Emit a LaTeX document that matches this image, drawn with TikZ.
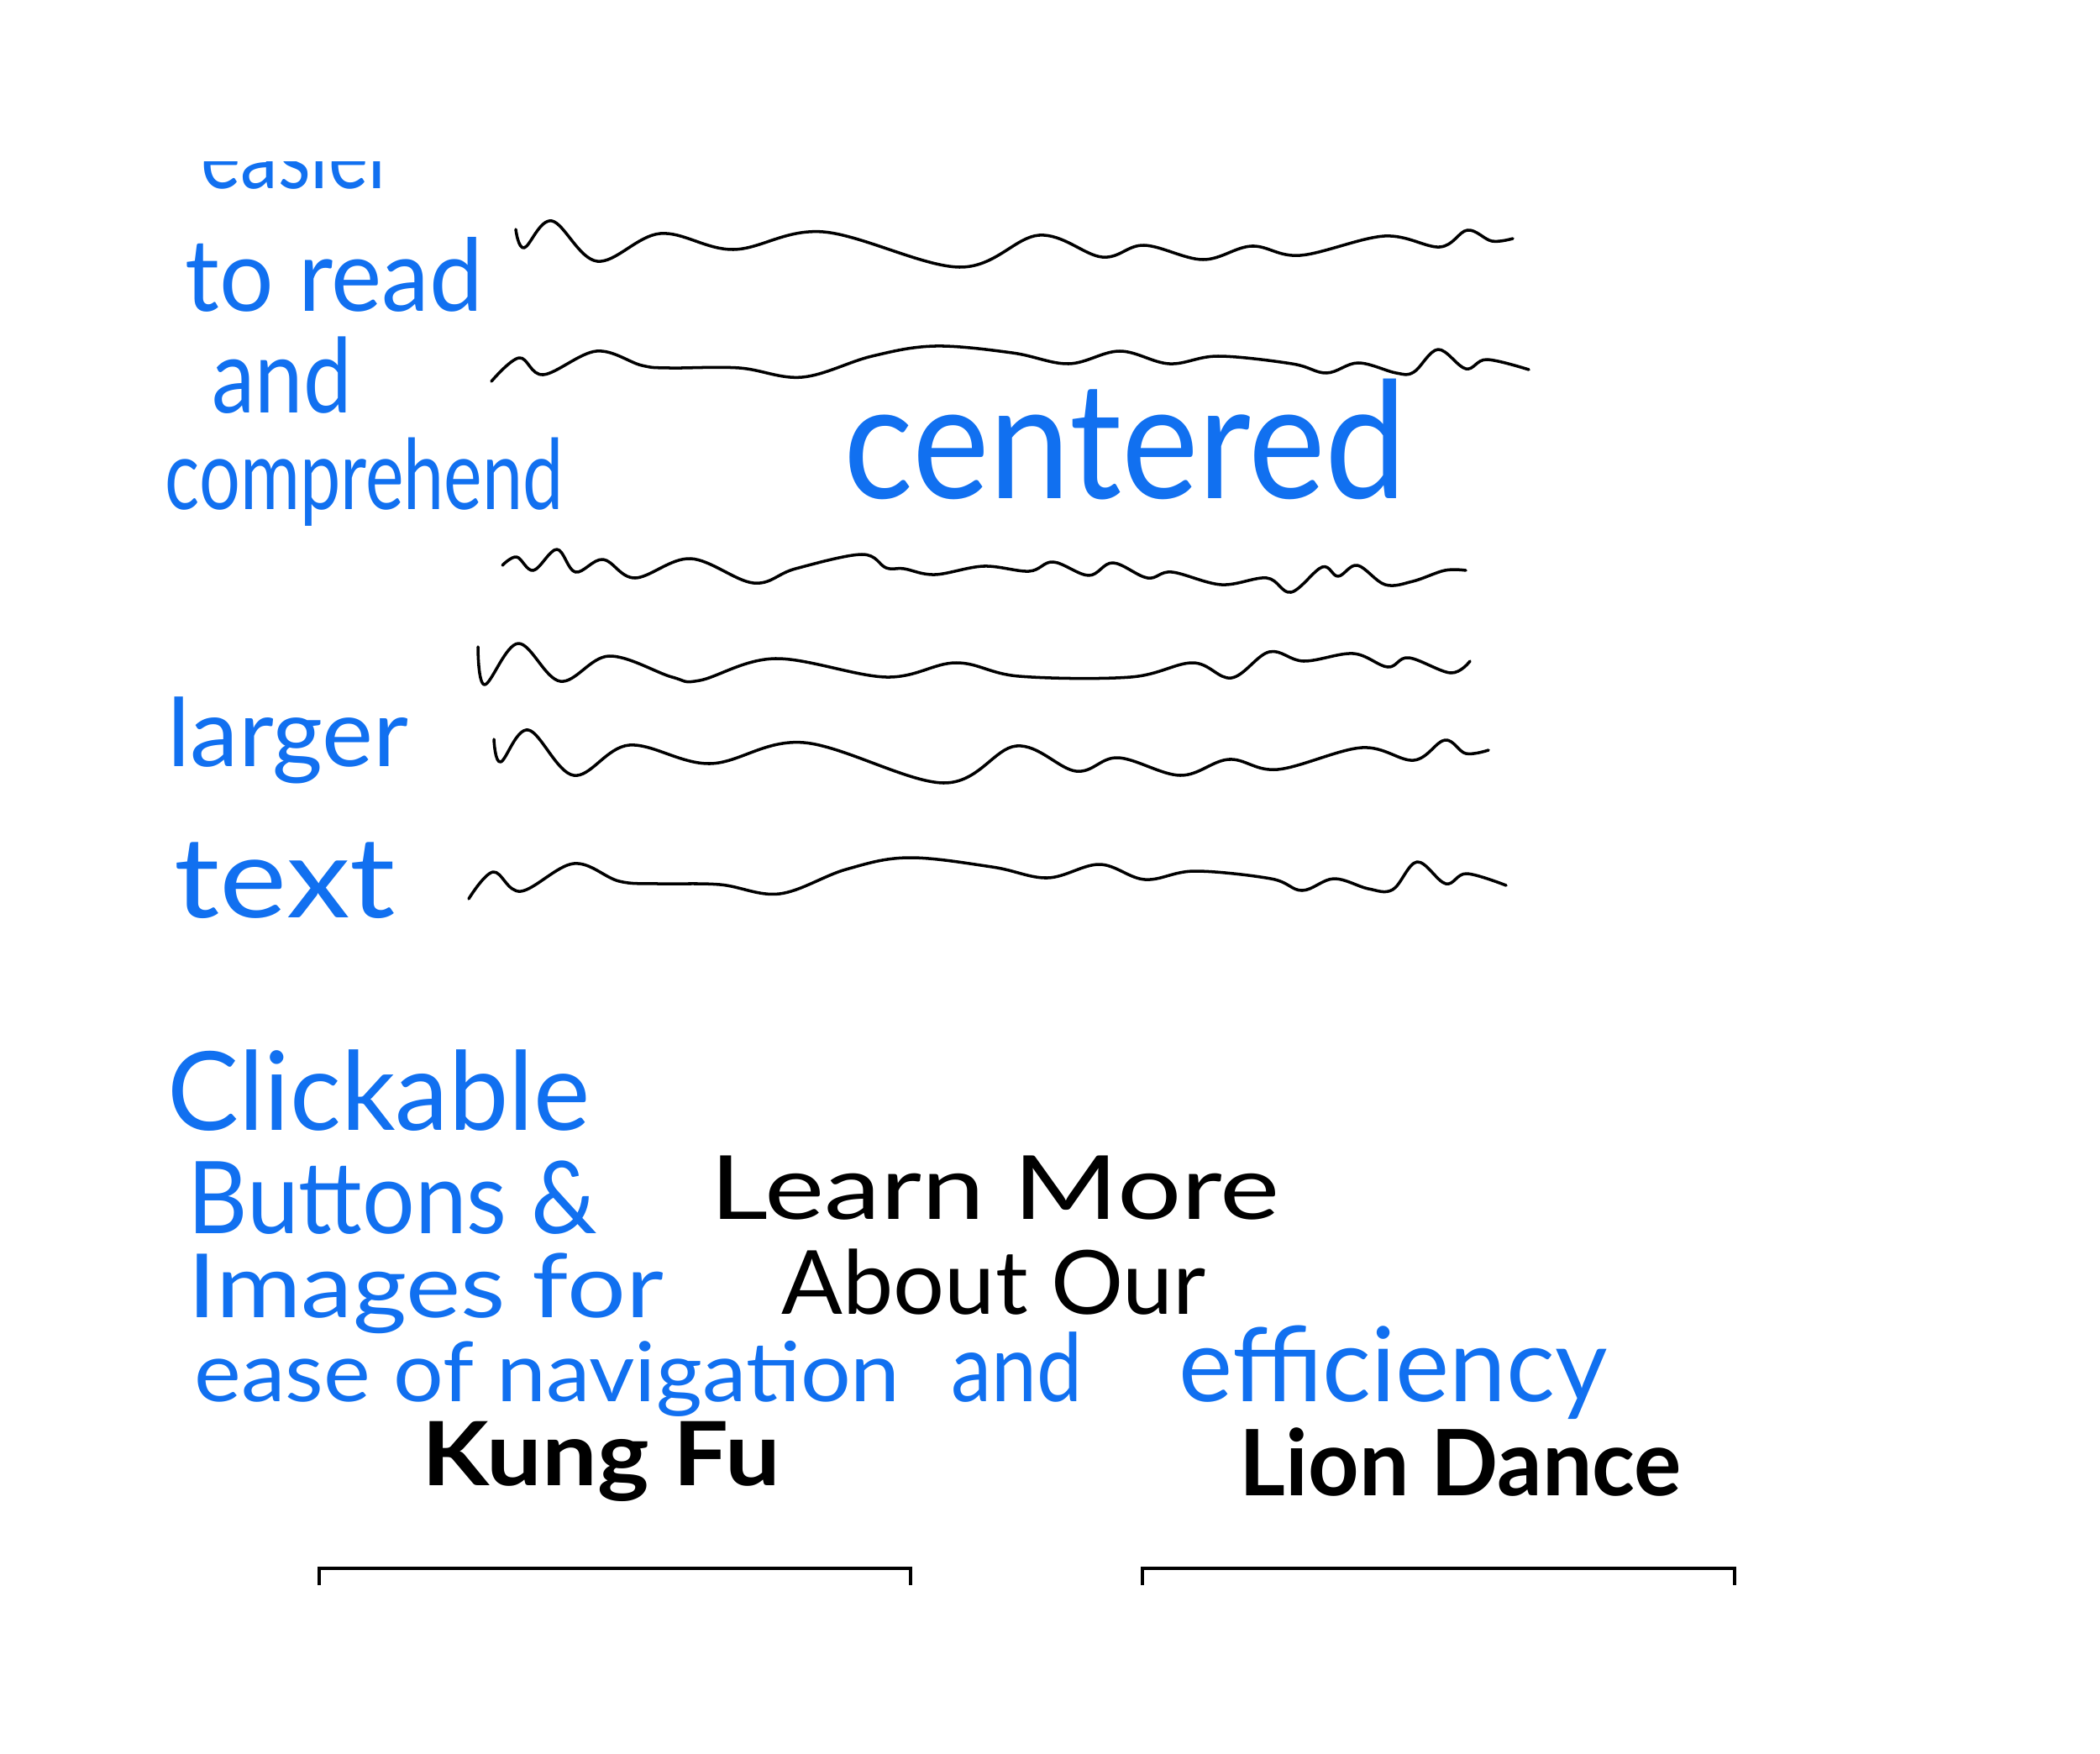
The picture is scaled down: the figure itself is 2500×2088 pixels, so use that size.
\documentclass[tikz,border=0pt]{standalone}
\usepackage{fontspec}
\setmainfont{Lato}
\usepackage{graphicx}
\usepackage{xcolor}
\usepackage{tikz}
\definecolor{sketchblue}{HTML}{1170F0}
\newlength\pxu
\setlength\pxu{0.01cm}
% squeeze a word to a given width (in px), keep its height
\newcommand\fitto[2]{\resizebox{#1\pxu}{\height}{#2}}
\newcommand\fs[1]{\fontsize{#1}{#1}\selectfont}

\begin{document}
\begin{tikzpicture}[x=0.01cm, y=-0.01cm,
  bluehand/.style={text=sketchblue, anchor=base west, inner sep=0pt},
  inkhand/.style={text=black, anchor=base west, inner sep=0pt},
  inkline/.style={black, line width=1pt, line cap=round, line join=round},
  tabline/.style={black, line width=1.1pt}]
\useasboundingbox (0,0) rectangle (2500,2088);

% blue notes on the left
\begin{scope}
\clip (0,193) rectangle (2500,2088);
\node[bluehand, font=\fs{31}] (easier) at (239,225) {\fitto{231}{easier}};
\end{scope}
\node[bluehand, font=\fs{34}] (toread) at (220,370) {\fitto{354}{to read}};
\node[bluehand, font=\fs{35}] (and1) at (252,491) {\fitto{166}{and}};
\node[bluehand, font=\fs{33}] (comprehend) at (196,606) {\fitto{474}{comprehend}};
\node[bluehand, font=\fs{55}] (centered) at (1004,593) {\fitto{670}{centered}};
\node[bluehand, font=\fs{32}] (larger) at (199,912) {\fitto{287}{larger}};
\node[bluehand, font=\fs{38}] (text) at (207,1092) {\fitto{263}{text}};
\node[bluehand, font=\fs{37}] (clickable) at (199,1345) {\fitto{503}{Clickable}};
\node[bluehand, font=\fs{34}] (buttons) at (223,1468) {\fitto{487}{Buttons \&}};
\node[bluehand, font=\fs{30}] (images) at (223,1568) {\fitto{566}{Images for}};
\node[bluehand, font=\fs{28}] (easeof) at (231,1668) {\fitto{840}{ease of navigation}};
\node[bluehand, font=\fs{32}] (and2) at (1132,1668) {\fitto{156}{and}};
\node[bluehand, font=\fs{35}] (efficiency) at (1403,1668) {\fitto{510}{efficiency}};

% black labels
\node[inkhand, font=\fs{30}] (learnmore) at (845,1451) {\fitto{678}{Learn More}};
\node[inkhand, font=\fs{30}] (aboutour) at (930,1564) {\fitto{505}{About Our}};
\node[inkhand, font=\bfseries\fs{30}] (kungfu) at (502,1768) {\fitto{426}{Kung Fu}};
\node[inkhand, font=\bfseries\fs{31}] (liondance) at (1475,1780) {\fitto{526}{Lion Dance}};

% squiggles standing for body text
\draw[inkline] plot[smooth, tension=0.6] coordinates {(614,273) (624,295) (657,263) (711,311) (786,278) (873,297) (980,276) (1142,318) (1237,280) (1312,306) (1362,292) (1432,309) (1490,293) (1548,304) (1648,281) (1714,294) (1747,274) (1776,287) (1801,284)};
\draw[inkline] plot[smooth, tension=0.6] coordinates {(585,454) (618,426) (647,446) (710,418) (764,435) (797,438) (880,438) (955,449) (1038,424) (1113,412) (1205,420) (1272,433) (1333,418) (1392,433) (1450,424) (1538,433) (1579,444) (1617,432) (1662,444) (1683,443) (1712,416) (1745,439) (1770,428) (1820,440)};
\draw[inkline] plot[smooth, tension=0.6] coordinates {(598,673) (615,663) (635,679) (663,654) (685,681) (718,666) (756,688) (822,665) (897,694) (947,677) (1026,660) (1055,676) (1076,677) (1113,684) (1171,674) (1225,680) (1254,669) (1296,685) (1325,670) (1366,688) (1395,681) (1454,696) (1508,688) (1537,705) (1574,675) (1593,686) (1616,673) (1649,696) (1682,692) (1720,679) (1745,679)};
\draw[inkline] plot[smooth, tension=0.6] coordinates {(569,770) (577,815) (617,766) (667,811) (725,781) (800,806) (833,810) (923,784) (1055,806) (1138,789) (1213,805) (1346,806) (1420,789) (1466,807) (1511,776) (1552,787) (1611,778) (1652,794) (1677,783) (1727,801) (1750,787)};
\draw[inkline] plot[smooth, tension=0.6] coordinates {(588,880) (596,907) (629,869) (683,923) (749,887) (845,909) (957,884) (1123,932) (1210,888) (1281,918) (1331,902) (1405,923) (1463,904) (1521,916) (1621,890) (1683,905) (1720,881) (1745,897) (1772,893)};
\draw[inkline] plot[smooth, tension=0.6] coordinates {(558,1070) (587,1038) (620,1061) (683,1028) (737,1049) (783,1052) (857,1053) (928,1064) (1007,1035) (1081,1021) (1181,1032) (1247,1045) (1309,1029) (1363,1047) (1422,1037) (1513,1046) (1550,1060) (1588,1046) (1629,1058) (1658,1059) (1687,1026) (1721,1052) (1746,1040) (1793,1054)};

% tab outlines under the two labels
\draw[tabline] (380,1887) -- (380,1867) -- (1084,1867) -- (1084,1887);
\draw[tabline] (1360,1887) -- (1360,1867) -- (2065,1867) -- (2065,1887);
\end{tikzpicture}
\end{document}
